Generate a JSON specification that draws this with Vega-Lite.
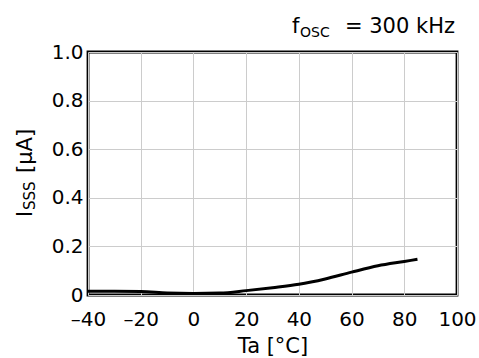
{
  "$schema": "https://vega.github.io/schema/vega-lite/v6.json",
  "width": 369,
  "height": 243,
  "autosize": "none",
  "padding": {"left": 88, "top": 52, "right": 22, "bottom": 63},
  "background": "white",
  "config": {
    "font": "DejaVu Sans",
    "view": {"stroke": "black", "strokeWidth": 2.8},
    "axis": {
      "grid": true,
      "gridColor": "#cccccc",
      "gridWidth": 1,
      "domain": false,
      "ticks": false,
      "labelFlush": false,
      "labelOverlap": false,
      "labelFontSize": 20,
      "labelColor": "black",
      "labelFont": "DejaVu Sans",
      "titleFont": "DejaVu Sans",
      "titleFontSize": 21,
      "titleFontWeight": "normal",
      "titleColor": "black"
    },
    "text": {"font": "DejaVu Sans", "fontWeight": "normal", "fill": "black"}
  },
  "layer": [
    {
      "data": {
        "values": [
          {"Ta": -40, "I": 0.015},
          {"Ta": -30, "I": 0.015},
          {"Ta": -20, "I": 0.014},
          {"Ta": -10, "I": 0.008},
          {"Ta": 0, "I": 0.006},
          {"Ta": 10, "I": 0.008},
          {"Ta": 20, "I": 0.018},
          {"Ta": 30, "I": 0.03},
          {"Ta": 40, "I": 0.044},
          {"Ta": 50, "I": 0.066},
          {"Ta": 60, "I": 0.094},
          {"Ta": 70, "I": 0.12},
          {"Ta": 80, "I": 0.138},
          {"Ta": 85, "I": 0.147}
        ]
      },
      "mark": {"type": "line", "color": "black", "strokeWidth": 3, "interpolate": "monotone"},
      "encoding": {
        "x": {
          "field": "Ta",
          "type": "quantitative",
          "scale": {"domain": [-40, 100], "nice": false},
          "axis": {
            "values": [-40, -20, 0, 20, 40, 60, 80, 100],
            "labelExpr": "datum.value < 0 ? '\u2013' + abs(datum.value) : '' + datum.value",
            "labelPadding": 14,
            "title": "Ta [\u00b0C]",
            "titlePadding": 6
          }
        },
        "y": {
          "field": "I",
          "type": "quantitative",
          "scale": {"domain": [0, 1], "nice": false},
          "axis": {
            "values": [0, 0.2, 0.4, 0.6, 0.8, 1.0],
            "labelExpr": "datum.value == 0 ? '0' : format(datum.value, '.1f')",
            "labelPadding": 5,
            "title": null
          }
        }
      }
    },
    {
      "data": {"values": [{"label": "= 300 kHz", "Ta": 100, "I": 1}]},
      "mark": {"type": "text", "align": "right", "baseline": "alphabetic", "fontSize": 21, "dx": -2, "dy": -19, "fill": "black"},
      "encoding": {"x": {"field": "Ta", "type": "quantitative"}, "y": {"field": "I", "type": "quantitative"}, "text": {"field": "label"}}
    },
    {
      "data": {"values": [{"label": "OSC", "Ta": 100, "I": 1}]},
      "mark": {"type": "text", "align": "left", "baseline": "alphabetic", "fontSize": 14, "dx": -157, "dy": -15.5, "fill": "black"},
      "encoding": {"x": {"field": "Ta", "type": "quantitative"}, "y": {"field": "I", "type": "quantitative"}, "text": {"field": "label"}}
    },
    {
      "data": {"values": [{"label": "f", "Ta": 100, "I": 1}]},
      "mark": {"type": "text", "align": "left", "baseline": "alphabetic", "fontSize": 21, "dx": -165, "dy": -19, "fill": "black"},
      "encoding": {"x": {"field": "Ta", "type": "quantitative"}, "y": {"field": "I", "type": "quantitative"}, "text": {"field": "label"}}
    },
    {
      "data": {"values": [{"label": "I", "Ta": -40, "I": 0.321}]},
      "mark": {"type": "text", "align": "left", "baseline": "alphabetic", "fontSize": 21, "angle": 270, "dy": -56, "fill": "black"},
      "encoding": {"x": {"field": "Ta", "type": "quantitative"}, "y": {"field": "I", "type": "quantitative"}, "text": {"field": "label"}}
    },
    {
      "data": {"values": [{"label": "SSS", "Ta": -40, "I": 0.35}]},
      "mark": {"type": "text", "align": "left", "baseline": "alphabetic", "fontSize": 15, "angle": 270, "dy": -53, "fill": "black"},
      "encoding": {"x": {"field": "Ta", "type": "quantitative"}, "y": {"field": "I", "type": "quantitative"}, "text": {"field": "label"}}
    },
    {
      "data": {"values": [{"label": "[\u03bcA]", "Ta": -40, "I": 0.502}]},
      "mark": {"type": "text", "align": "left", "baseline": "alphabetic", "fontSize": 21, "angle": 270, "dy": -56, "fill": "black"},
      "encoding": {"x": {"field": "Ta", "type": "quantitative"}, "y": {"field": "I", "type": "quantitative"}, "text": {"field": "label"}}
    }
  ]
}
